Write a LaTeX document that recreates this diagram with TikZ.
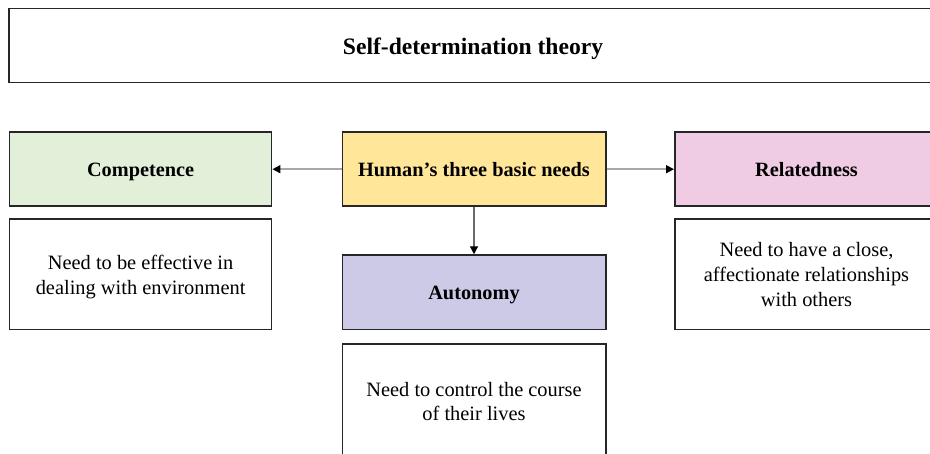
\documentclass[tikz,border=0pt]{standalone}
\usepackage{fontspec}
\setmainfont{Liberation Serif}
\usetikzlibrary{arrows.meta}
\definecolor{cgreen}{HTML}{E2F0D9}
\definecolor{cyellow}{HTML}{FFE699}
\definecolor{clav}{HTML}{CCCAE6}
\definecolor{cpink}{HTML}{F0CCE4}
\definecolor{cborder}{HTML}{262626}
\definecolor{clink}{HTML}{A8A8A8}
\definecolor{clinkdark}{HTML}{6A6A6A}
\tikzset{
  box/.style={draw=cborder, line width=1.6pt, rectangle, inner sep=0pt, anchor=center,
    minimum width=262pt, align=center},
  headbox/.style={box, minimum height=74pt, text height=16pt, text depth=1pt,
    font=\bfseries\fontsize{20.3}{24.5}\selectfont},
  descbox/.style={box, fill=white, minimum height=110.6pt},
  desctext/.style={inner sep=0pt, align=center, anchor=center, font=\fontsize{20.4}{24.5}\selectfont},
  link/.style={draw=clink, line width=1.5pt, -{Triangle[length=8pt,width=8pt,color=black]}},
  linkdark/.style={draw=clinkdark, line width=1.3pt, -{Triangle[length=8pt,width=8pt,color=black]}}
}
\begin{document}
\begin{tikzpicture}[x=1pt,y=-1pt]
\useasboundingbox (0,0) rectangle (930,453);
\fill[white] (0,0) rectangle (930,453);
\begin{scope}
\clip (0,0) rectangle (930,453);
\node[box, fill=white, minimum width=928pt, minimum height=74pt, text height=19pt, text depth=0.6pt,
      font=\bfseries\fontsize{23.6}{28}\selectfont] (title) at (473,45.5) {Self-determination theory};
\node[headbox, fill=cgreen] (comp) at (140.6,169.2) {Competence};
\node[headbox, fill=cyellow, minimum width=263.4pt] (human) at (474,169.2) {Human’s three basic needs};
\node[headbox, fill=cpink, minimum width=263.4pt] (rel) at (806.5,169.2) {Relatedness};
\node[headbox, fill=clav, minimum width=263.4pt, minimum height=74.3pt] (auto) at (474,292.2) {Autonomy};
\node[descbox] (compd) at (140.6,274) {};
\node[descbox, minimum width=263.4pt] (reld) at (806.5,274) {};
\node[descbox, minimum width=263.4pt] (autod) at (474,399.3) {};
\node[desctext] (compdt) at ([yshift=-3pt]compd.center) {Need to be effective in\\dealing with environment};
\node[desctext, font=\fontsize{20.4}{25}\selectfont] (reldt) at ([yshift=-0.5pt]reld.center) {Need to have a close,\\affectionate relationships\\with others};
\node[desctext, font=\fontsize{20.4}{23.5}\selectfont] (autodt) at ([yshift=-2pt]autod.center) {Need to control the course\\of their lives};
\draw[link] (human.west) -- (comp.east);
\draw[link] (human.east) -- (rel.west);
\draw[linkdark] (human.south) -- (auto.north);
\end{scope}
\end{tikzpicture}
\end{document}
